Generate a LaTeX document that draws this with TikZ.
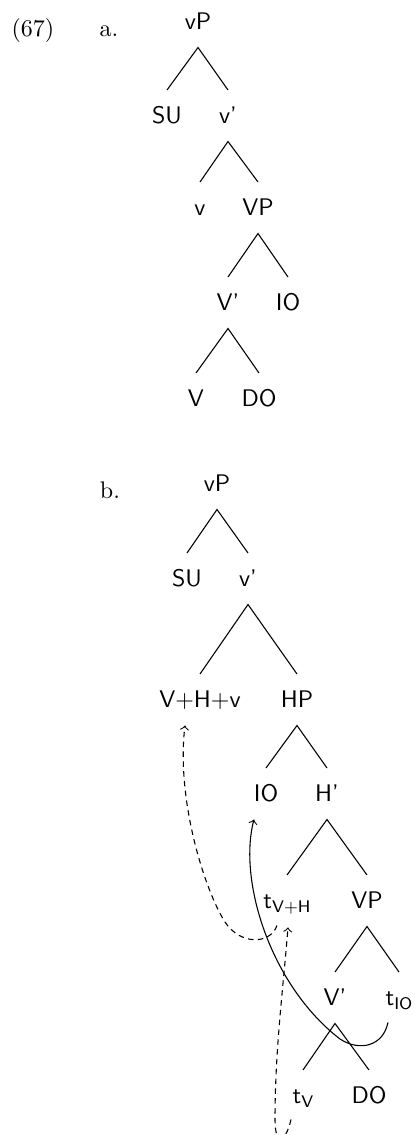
\documentclass[tikz,border=0pt]{standalone}
\usepackage{fontspec}
\usetikzlibrary{calc}
% small lowered subscript for traces
\newcommand\lowsub[1]{\raisebox{-2pt}{\fontsize{7}{8}\selectfont #1}}
\tikzset{
  lbl/.style={font=\sffamily, anchor=base, inner sep=0pt, outer sep=0pt,
              text height=13.75pt, text depth=7.7pt},
  ex/.style={font=\rmfamily, anchor=base, inner sep=0pt},
  branch/.style={line width=0.45pt},
  movesolid/.style={line width=0.45pt, ->},
  movedash/.style={line width=0.45pt, ->, dash pattern=on 2.3pt off 1.8pt},
}
\begin{document}
\begin{tikzpicture}[x=0.41667pt, y=-0.41667pt]
\useasboundingbox (0,0) rectangle (414,1135);
\clip (0,0) rectangle (414,1135);

% example numbers
\node[ex] (num) at (33,36) {(67)};
\node[ex] (la) at (109,36) {a.};
\node[ex] (lb) at (110,498) {b.};

% ---- tree (a) ----
\node[lbl] (a1) at (198,29) {vP};
\node[lbl] (a2) at (167,123) {SU};
\node[lbl] (a3) at (228,123) {v'};
\node[lbl] (a4) at (200,215) {v};
\node[lbl] (a5) at (258,215) {VP};
\node[lbl] (a6) at (228,310) {V'};
\node[lbl] (a7) at (288,310) {IO};
\node[lbl] (a8) at (196,406) {V};
\node[lbl] (a9) at (259,406) {DO};
\draw[branch] (a2.north) -- (a1.south) -- (a3.north);
\draw[branch] (a4.north) -- (a3.south) -- (a5.north);
\draw[branch] (a6.north) -- (a5.south) -- (a7.north);
\draw[branch] (a8.north) -- (a6.south) -- (a9.north);

% ---- tree (b) ----
\node[lbl] (vP)  at (217,491) {vP};
\node[lbl] (SU)  at (187,586) {SU};
\node[lbl] (vb)  at (248,586) {v'};
\node[lbl] (VHv) at (200,707) {V+H+v};
\node[lbl] (HP)  at (297,707) {HP};
\node[lbl] (IO)  at (266,801) {IO};
\node[lbl] (Hb)  at (327,801) {H'};
\node[lbl] (tVH) at (287,908) {t\lowsub{V+H}};
\node[lbl] (VP)  at (367,908) {VP};
\node[lbl] (Vb)  at (335,1005) {V'};
\node[lbl] (tIO) at (399,1005) {t\lowsub{IO}};
\node[lbl] (tV)  at (303,1103) {t\lowsub{V}};
\node[lbl] (DO)  at (369,1103) {DO};
\draw[branch] (SU.north) -- (vP.south) -- (vb.north);
\draw[branch] (VHv.north) -- (vb.south) -- (HP.north);
\draw[branch] (IO.north) -- (HP.south) -- (Hb.north);
\draw[branch] (tVH.north) -- (Hb.south) -- (VP.north);
\draw[branch] (Vb.north) -- (VP.south) -- (tIO.north);
\draw[branch] (tV.north) -- (Vb.south) -- (DO.north);

% movement of IO
\draw[movesolid] ($(tIO.south)+(-11,-1)$)
  .. controls (383,1046) and (360,1052) .. (340,1039)
  .. controls (270,985) and (238,880) .. ($(IO.south)+(-12,0)$);
% movement of V+H
\draw[movedash] ($(tVH.south)+(-10,-1)$)
  .. controls (270,945) and (240,945) .. (225,922)
  .. controls (205,891) and (176,800) .. ($(VHv.south)+(-15,0)$);
% movement of V
\draw[movedash] ($(tV.south)+(-12,-2)$)
  .. controls (286,1142) and (275,1147) .. (275,1120)
  .. controls (275,1050) and (283,990) .. ($(tVH.south)+(1,1)$);
\end{tikzpicture}
\end{document}
